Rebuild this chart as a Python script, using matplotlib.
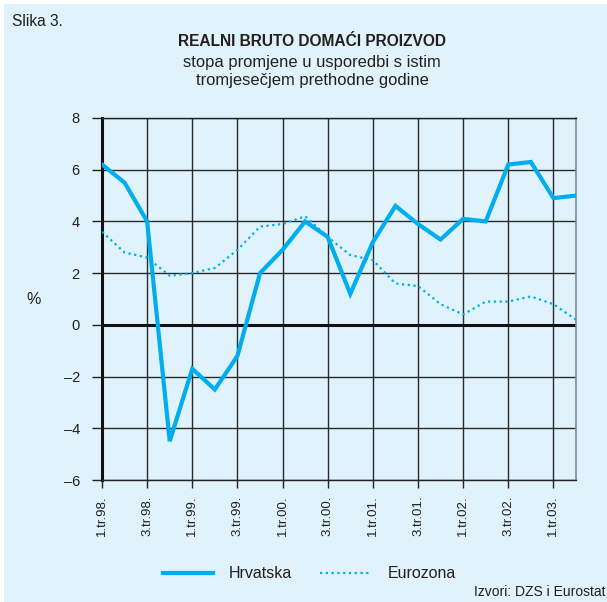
import matplotlib
matplotlib.use("Agg")
import matplotlib.pyplot as plt
from matplotlib.patches import Rectangle
from matplotlib.lines import Line2D

plt.rcParams['font.family'] = ['Liberation Sans', 'DejaVu Sans']

quarters = ["1.tr.98.", "2.tr.98.", "3.tr.98.", "4.tr.98.",
            "1.tr.99.", "2.tr.99.", "3.tr.99.", "4.tr.99.",
            "1.tr.00.", "2.tr.00.", "3.tr.00.", "4.tr.00.",
            "1.tr.01.", "2.tr.01.", "3.tr.01.", "4.tr.01.",
            "1.tr.02.", "2.tr.02.", "3.tr.02.", "4.tr.02.",
            "1.tr.03.", "2.tr.03."]
hrvatska = [6.2, 5.5, 4.0, -4.5, -1.7, -2.5, -1.2, 2.0, 2.9, 4.0, 3.4,
            1.2, 3.2, 4.6, 3.9, 3.3, 4.1, 4.0, 6.2, 6.3, 4.9, 5.0]
eurozona = [3.6, 2.8, 2.6, 1.9, 2.0, 2.2, 2.9, 3.8, 3.9, 4.2, 3.4,
            2.7, 2.5, 1.6, 1.5, 0.8, 0.4, 0.9, 0.9, 1.1, 0.8, 0.2]
yticks = [-6, -4, -2, 0, 2, 4, 6, 8]

W, H = 607, 602
bg = '#e0f2fb'
cyan = '#00aeef'
txt = '#231f20'

fig = plt.figure(figsize=(W / 100, H / 100), dpi=100)
fig.patch.set_facecolor('white')
fig.patches.append(Rectangle((4 / W, 0), 1, 1 - 4 / H, transform=fig.transFigure,
                             facecolor=bg, edgecolor='none', zorder=-5))

ax = fig.add_axes([102 / W, 1 - 480 / H, (576 - 102) / W, (480 - 118) / H])
ax.set_zorder(2)
ax.set_facecolor(bg)
x = list(range(len(quarters)))
ax.plot(x, hrvatska, color=cyan, lw=3.0, solid_joinstyle='miter', zorder=4)
ax.plot(x, eurozona, color=cyan, lw=1.6, linestyle=(0, (1, 1.6)), zorder=3)

ax.set_xlim(0, len(quarters) - 1)
ax.set_ylim(-6, 8)
ax.set_yticks(yticks)
ax.set_yticklabels([str(v).replace('-', '\u2013') for v in yticks], fontsize=10.5, color=txt)
xt = x[::2]
ax.set_xticks(xt)
ax.set_xticklabels([quarters[i] for i in xt], rotation=90, fontsize=9.5, color=txt)
ax.tick_params(axis='y', length=7, width=1, color='#222222', pad=9)
ax.tick_params(axis='x', length=6, width=1, color='#222222', pad=5)

for v in yticks:
    ax.axhline(v, color='#2a2a2a', lw=1.0, zorder=1)
for v in xt:
    ax.axvline(v, color='#2a2a2a', lw=1.0, zorder=1)
ax.axhline(0, color='#111111', lw=2.2, zorder=2)

for s in ['top', 'bottom']:
    ax.spines[s].set_color('#222222')
    ax.spines[s].set_linewidth(1.0)
ax.spines['left'].set_color('#111111')
ax.spines['left'].set_linewidth(2.2)
ax.spines['right'].set_color('#888888')
ax.spines['right'].set_linewidth(1.2)

ax.text(-0.144, 0.5, '%', transform=ax.transAxes, fontsize=11.5, color=txt,
        ha='center', va='center')

fig.text(12 / W, 1 - 22 / H, 'Slika 3.', fontsize=11.2, color=txt, ha='left', va='center')
fig.text(312 / W, 1 - 42 / H, 'REALNI BRUTO DOMAĆI PROIZVOD', fontsize=11.2,
         fontweight='bold', color=txt, ha='center', va='center')
fig.text(312 / W, 1 - 62 / H, 'stopa promjene u usporedbi s istim', fontsize=11.9,
         color=txt, ha='center', va='center')
fig.text(312 / W, 1 - 80 / H, 'tromjesečjem prethodne godine', fontsize=11.9,
         color=txt, ha='center', va='center')

fig.lines.append(Line2D([163 / W, 213 / W], [1 - 573 / H] * 2, transform=fig.transFigure,
                        color=cyan, lw=3.0))
fig.text(229 / W, 1 - 573 / H, 'Hrvatska', fontsize=11.5, color=txt, ha='left', va='center')
fig.lines.append(Line2D([320 / W, 372 / W], [1 - 573 / H] * 2, transform=fig.transFigure,
                        color=cyan, lw=1.6, linestyle=(0, (1, 1.6))))
fig.text(388 / W, 1 - 573 / H, 'Eurozona', fontsize=11.5, color=txt, ha='left', va='center')

fig.text(605 / W, 1 - 592 / H, 'Izvori: DZS i Eurostat', fontsize=10, color=txt,
         ha='right', va='center')

fig.savefig('out.png', dpi=100, facecolor=fig.get_facecolor())
